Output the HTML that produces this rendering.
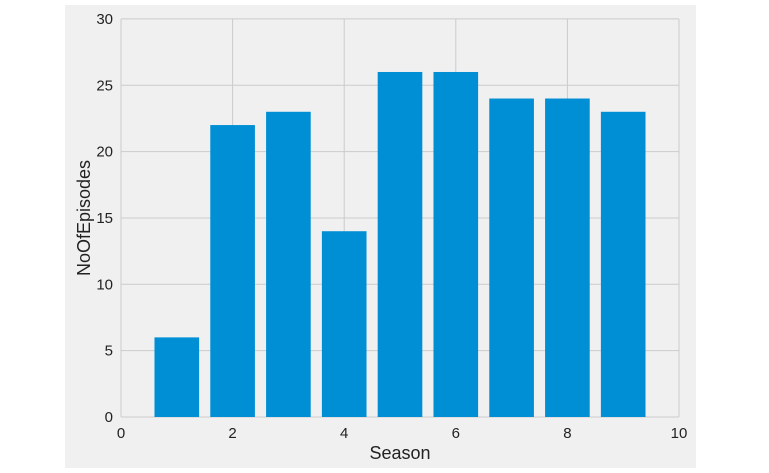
<!DOCTYPE html>
<html><head><meta charset="utf-8"><style>
body{margin:0;background:#fff;}
svg{display:block;font-family:"Liberation Sans","DejaVu Sans",sans-serif;}
</style></head><body>
<svg id="chart" width="769" height="473">
<rect x="65" y="5" width="631" height="463" fill="#f0f0f0"/>
<g id="grid"></g><g id="bars"></g><g id="ticks"></g>
<text x="400" y="459" font-size="18" text-anchor="middle" fill="#222">Season</text>
<text transform="translate(90,218) rotate(-90)" font-size="18" text-anchor="middle" fill="#222">NoOfEpisodes</text>
</svg>
<script>
const seasons=[1,2,3,4,5,6,7,8,9];
const episodes=[6,22,23,14,26,26,24,24,23];
const xTicks=[0,2,4,6,8,10];
const yTicks=[0,5,10,15,20,25,30];
const NS='http://www.w3.org/2000/svg';
const x=v=>121+v*55.8, y=v=>417-v*13.27;
function mk(p,t,a){const e=document.createElementNS(NS,t);for(const k in a)e.setAttribute(k,a[k]);p.appendChild(e);return e;}
const g=document.getElementById('grid'),b=document.getElementById('bars'),tk=document.getElementById('ticks');
yTicks.forEach(v=>{
 const l=mk(g,'line',{x1:x(0),x2:x(10),y1:y(v),y2:y(v),stroke:'#cbcbcb','stroke-width':1});
 
 
 const t=mk(tk,'text',{x:x(0)-8,y:y(v)+5,'text-anchor':'end','font-size':15,fill:'#222'});t.textContent=v;
 
 
});
xTicks.forEach(v=>{
 const l=mk(g,'line',{x1:x(v),x2:x(v),y1:y(0),y2:y(30),stroke:'#cbcbcb','stroke-width':1});
 
 
 const t=mk(tk,'text',{x:x(v),y:y(0)+21,'text-anchor':'middle','font-size':15,fill:'#222'});t.textContent=v;
 
 
});
seasons.forEach((s,i)=>{
 const r=mk(b,'rect',{x:x(s-0.4),y:y(episodes[i]),width:x(s+0.4)-x(s-0.4),height:y(0)-y(episodes[i]),fill:'#008fd5'});
 
 
});
</script>
</body></html>
